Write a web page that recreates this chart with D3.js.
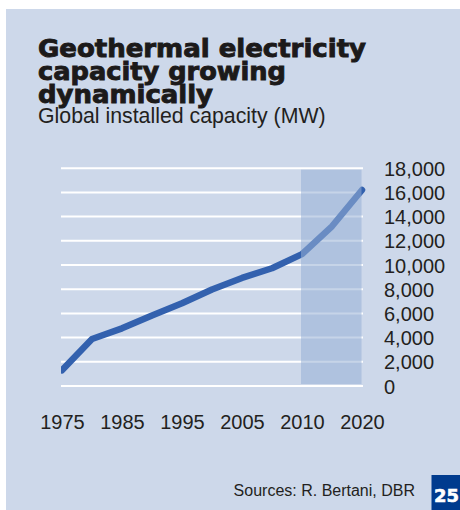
<!DOCTYPE html>
<html>
<head>
<meta charset="utf-8">
<script src="https://cdn.jsdelivr.net/npm/d3@7"></script>
<style>
  html, body { margin: 0; padding: 0; background: #ffffff; }
  svg { display: block; }
</style>
</head>
<body>
<script>
// Global installed geothermal electricity capacity (MW)
const years = ["1975", "1980", "1985", "1990", "1995", "2000", "2005", "2007", "2010", "2015", "2020"];
const capacity = [1300, 3887, 4764, 5832, 6833, 7972, 8933, 9732, 10897, 13200, 16200];
const xTickLabels = ["1975", "1985", "1995", "2005", "2010", "2020"];
const yTicks = [0, 2000, 4000, 6000, 8000, 10000, 12000, 14000, 16000, 18000];
const outlookRange = ["2010", "2020"];

const W = 460, H = 510;
const svg = d3.select("body").append("svg").attr("width", W).attr("height", H);

// panel background
svg.append("rect").attr("x", 6).attr("y", 9).attr("width", W - 6).attr("height", H - 9)
  .attr("fill", "#cdd8ea");

const x = d3.scalePoint().domain(years).range([62, 362]);
const y = d3.scaleLinear().domain([0, 18000]).range([386, 168.2]);

// horizontal gridlines
svg.append("g").selectAll("line").data(yTicks).join("line")
  .attr("x1", 61).attr("x2", 363)
  .attr("y1", d => y(d)).attr("y2", d => y(d))
  .attr("stroke", "#ffffff").attr("stroke-width", 2);

// right-hand value axis
const yAxis = d3.axisRight(y).tickValues(yTicks).tickSize(0).tickPadding(0)
  .tickFormat(d3.format(","));
const gy = svg.append("g").attr("transform", "translate(384,0)").call(yAxis);
gy.select(".domain").remove();
gy.selectAll("text")
  .attr("font-family", "'Liberation Sans', Arial, sans-serif")
  .attr("font-size", 20).attr("fill", "#231f20").attr("dy", "0.35em");

// year axis
const xAxis = d3.axisBottom(x).tickValues(xTickLabels).tickSize(0).tickPadding(0);
const gx = svg.append("g").attr("transform", "translate(0,429)").call(xAxis);
gx.select(".domain").remove();
gx.selectAll("text")
  .attr("font-family", "'Liberation Sans', Arial, sans-serif")
  .attr("font-size", 20).attr("fill", "#231f20").attr("dy", 0).attr("y", 0);

// capacity line
svg.append("clipPath").attr("id", "plot-clip")
  .append("rect").attr("x", 61).attr("y", 100).attr("width", 320).attr("height", 320);

const line = d3.line().x((d, i) => x(years[i])).y(d => y(d));
svg.append("path").datum(capacity)
  .attr("clip-path", "url(#plot-clip)")
  .attr("d", line)
  .attr("fill", "none").attr("stroke", "#3361ae").attr("stroke-width", 6.5)
  .attr("stroke-linejoin", "round").attr("stroke-linecap", "round");

// shaded outlook period
svg.append("rect")
  .attr("x", x(outlookRange[0]) - 1).attr("y", y(18000) + 1.5)
  .attr("width", x(outlookRange[1]) - x(outlookRange[0]) + 0.5)
  .attr("height", y(0) - y(18000) - 3.5)
  .attr("fill", "#98b0d6").attr("opacity", 0.55);

// title
const titleLines = [
  { text: "Geothermal electricity", w: 328, yb: 56.5 },
  { text: "capacity growing", w: 248, yb: 80 },
  { text: "dynamically", w: 175, yb: 103 }
];
svg.append("g").selectAll("text").data(titleLines).join("text")
  .attr("x", 38).attr("y", d => d.yb)
  .attr("textLength", d => d.w).attr("lengthAdjust", "spacingAndGlyphs")
  .attr("font-family", "'DejaVu Sans', sans-serif").attr("font-weight", "bold")
  .attr("font-size", 24.5).attr("fill", "#1c1a1a")
  .attr("stroke", "#1c1a1a").attr("stroke-width", 0.9)
  .text(d => d.text);

svg.append("text").attr("x", 38).attr("y", 123)
  .attr("font-family", "'Liberation Sans', Arial, sans-serif")
  .attr("font-size", 21.3).attr("fill", "#231f20")
  .text("Global installed capacity (MW)");

// source note
svg.append("text").attr("x", 415).attr("y", 496).attr("text-anchor", "end")
  .attr("font-family", "'Liberation Sans', Arial, sans-serif")
  .attr("font-size", 16).attr("fill", "#231f20")
  .text("Sources: R. Bertani, DBR");

// page number badge
svg.append("rect").attr("x", 431.5).attr("y", 475).attr("width", 28.5).attr("height", 35)
  .attr("fill", "#003b8e");
svg.append("text").attr("x", 434).attr("y", 502)
  .attr("textLength", 25).attr("lengthAdjust", "spacingAndGlyphs")
  .attr("font-family", "'DejaVu Sans', sans-serif").attr("font-weight", "bold")
  .attr("font-size", 18).attr("fill", "#ffffff")
  .attr("stroke", "#ffffff").attr("stroke-width", 0.6)
  .text("25");
</script>
</body>
</html>
